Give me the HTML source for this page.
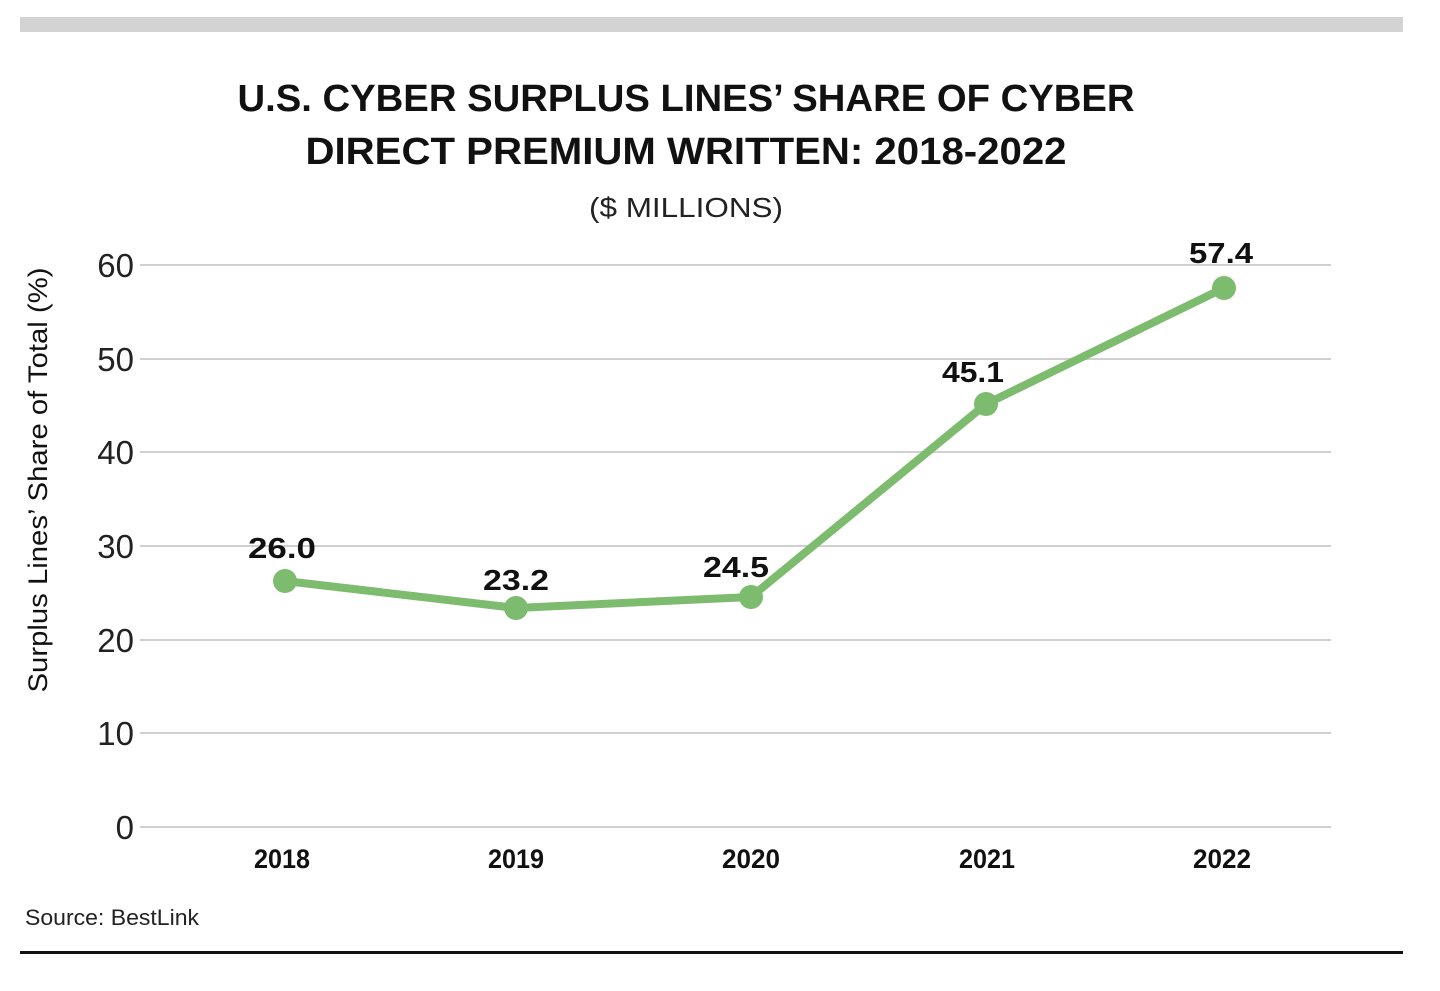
<!DOCTYPE html>
<html><head><meta charset="utf-8"><style>
html,body{margin:0;padding:0;background:#fff;}
body{width:1440px;height:986px;overflow:hidden;font-family:"Liberation Sans",sans-serif;}
</style></head><body>
<svg width="1440" height="986" viewBox="0 0 1440 986" xmlns="http://www.w3.org/2000/svg" font-family="Liberation Sans, sans-serif">
<rect x="20" y="17" width="1383" height="15" fill="#d3d3d3"/>
<text x="686" y="111" text-anchor="middle" font-size="38" font-weight="bold" fill="#111" textLength="897" lengthAdjust="spacingAndGlyphs">U.S. CYBER SURPLUS LINES’ SHARE OF CYBER</text>
<text x="686" y="164" text-anchor="middle" font-size="38" font-weight="bold" fill="#111" textLength="761" lengthAdjust="spacingAndGlyphs">DIRECT PREMIUM WRITTEN: 2018-2022</text>
<text x="686" y="217" text-anchor="middle" font-size="28" fill="#222" textLength="194" lengthAdjust="spacingAndGlyphs">($ MILLIONS)</text>
<g stroke="#d0d0d0" stroke-width="2">
<line x1="140" x2="1331" y1="265" y2="265"/>
<line x1="140" x2="1331" y1="359" y2="359"/>
<line x1="140" x2="1331" y1="452" y2="452"/>
<line x1="140" x2="1331" y1="546" y2="546"/>
<line x1="140" x2="1331" y1="640" y2="640"/>
<line x1="140" x2="1331" y1="733" y2="733"/>
<line x1="140" x2="1331" y1="827" y2="827"/>
</g>
<g font-size="33" fill="#222" text-anchor="end">
<text x="134" y="277">60</text>
<text x="134" y="371">50</text>
<text x="134" y="464">40</text>
<text x="134" y="558">30</text>
<text x="134" y="652">20</text>
<text x="134" y="745">10</text>
<text x="134" y="839">0</text>
</g>
<text transform="translate(47,480) rotate(-90)" text-anchor="middle" font-size="27" fill="#111" textLength="425" lengthAdjust="spacingAndGlyphs">Surplus Lines’ Share of Total (%)</text>
<g font-size="27" font-weight="bold" fill="#111" text-anchor="middle">
<text x="282" y="868" textLength="56" lengthAdjust="spacingAndGlyphs">2018</text>
<text x="516" y="868" textLength="56" lengthAdjust="spacingAndGlyphs">2019</text>
<text x="751" y="868" textLength="58" lengthAdjust="spacingAndGlyphs">2020</text>
<text x="987" y="868" textLength="56" lengthAdjust="spacingAndGlyphs">2021</text>
<text x="1222" y="868" textLength="58" lengthAdjust="spacingAndGlyphs">2022</text>
</g>
<polyline points="285,581 516,608 751,597 986,404 1224,288" fill="none" stroke="#7dbb6e" stroke-width="8" stroke-linejoin="round"/>
<g fill="#7dbb6e">
<circle cx="285" cy="581" r="12"/>
<circle cx="516" cy="608" r="12"/>
<circle cx="751" cy="597" r="12"/>
<circle cx="986" cy="404" r="12"/>
<circle cx="1224" cy="288" r="12"/>
</g>
<g font-size="29" font-weight="bold" fill="#111" text-anchor="middle">
<text x="282" y="558" textLength="68" lengthAdjust="spacingAndGlyphs">26.0</text>
<text x="516" y="590" textLength="66" lengthAdjust="spacingAndGlyphs">23.2</text>
<text x="736" y="577" textLength="66" lengthAdjust="spacingAndGlyphs">24.5</text>
<text x="973" y="382" textLength="62" lengthAdjust="spacingAndGlyphs">45.1</text>
<text x="1221" y="263" textLength="64" lengthAdjust="spacingAndGlyphs">57.4</text>
</g>
<text x="25" y="925" font-size="22" fill="#222" textLength="174" lengthAdjust="spacingAndGlyphs">Source: BestLink</text>
<rect x="20" y="951" width="1383" height="3" fill="#111"/>
</svg>
</body></html>
